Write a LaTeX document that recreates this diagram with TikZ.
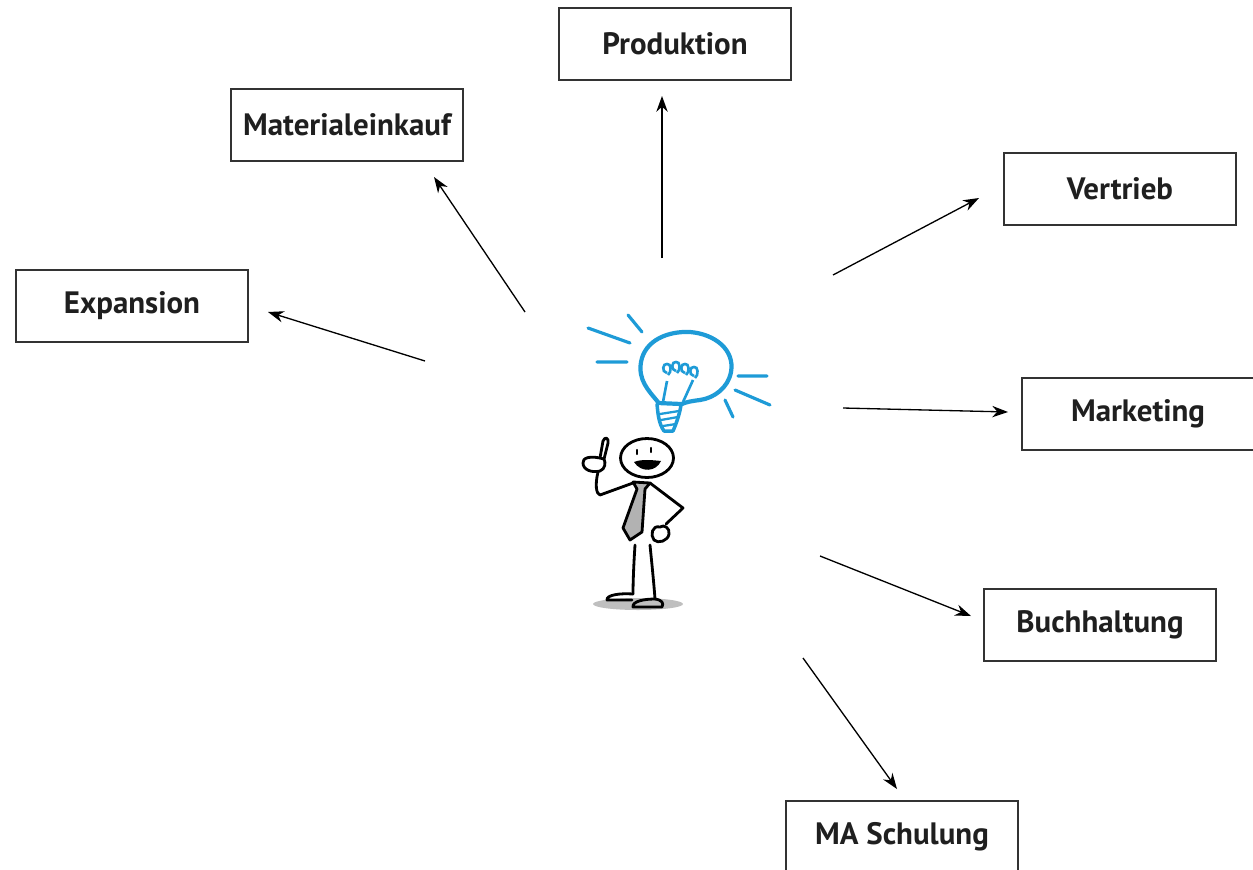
\documentclass[tikz,border=0pt]{standalone}
\usepackage{fontspec}
\setmainfont{PT Sans}
\usetikzlibrary{arrows.meta}
\definecolor{bulbblue}{RGB}{30,155,215}

\begin{document}
\begin{tikzpicture}[x=0.02cm, y=-0.02cm,
    bereich/.style ={rectangle, draw=black!80, line width=0.8pt, minimum width=4.64cm, minimum height=1.44cm, font=\fontsize{17.6}{20}\selectfont\bfseries, text=black!88},
    pfeil/.style ={-{Stealth[length=9pt,width=6.5pt]}, line width=0.75pt},
    figur/.style ={line width=1.6pt, line cap=round, line join=round},
    birne/.style ={draw=bulbblue, line width=2.4pt, line cap=round, line join=round}]
   \useasboundingbox (0,0) rectangle (1253,869);

   \node[bereich] (A) at (675,44)  {Produktion};
   \node[bereich] (B) at (347,125) {Materialeinkauf};
   \node[bereich] (C) at (1120,189) {Vertrieb};
   \node[bereich] (D) at (132,306) {Expansion};
   \node[bereich] (E) at (1138,414) {Marketing};
   \node[bereich] (F) at (1100,625) {Buchhaltung};
   \node[bereich] (G) at (902,837) {MA Schulung};

   \coordinate (sA) at (662,258);  \coordinate (eA) at (662,96);
   \coordinate (sB) at (525,312);  \coordinate (eB) at (434,177);
   \coordinate (sC) at (833,275);  \coordinate (eC) at (979,198);
   \coordinate (sD) at (425,361);  \coordinate (eD) at (268,312);
   \coordinate (sE) at (843,408);  \coordinate (eE) at (1008,412);
   \coordinate (sF) at (820,556);  \coordinate (eF) at (971,616);
   \coordinate (sG) at (803,658);  \coordinate (eG) at (897,789);

   \draw[pfeil] (sA) to (eA);
   \draw[pfeil] (sB) to (eB);
   \draw[pfeil] (sC) to (eC);
   \draw[pfeil] (sD) to (eD);
   \draw[pfeil] (sE) to (eE);
   \draw[pfeil] (sF) to (eF);
   \draw[pfeil] (sG) to (eG);

   % Gluehbirne
   \draw[birne] (658,402) .. controls (648,390) and (638,380) .. (641,362)
      .. controls (645,340) and (668,331) .. (690,332)
      .. controls (715,334) and (735,350) .. (731,372)
      .. controls (728,388) and (714,398) .. (700,400)
      .. controls (692,401) and (686,402) .. (682,404);
   \draw[birne] (658,403) -- (681,404);
   \draw[birne, line width=2pt] (657,404) .. controls (658,415) and (659,424) .. (664,431)
      -- (673,431) .. controls (677,422) and (680,412) .. (681,405);
   \draw[bulbblue, line width=1.3pt] (660,414) -- (679,411) (661,420) -- (678,417) (663,426) -- (676,424);
   \draw[bulbblue, line width=1.5pt] (667,381) -- (663,402) (693,380) -- (683,402);
   \foreach \x/\y in {667/371, 676/369, 685/371, 694/374}
      \draw[bulbblue, line width=1.5pt] (\x,\y+2) .. controls (\x-6,\y+1) and (\x-4,\y-8) .. (\x,\y-7)
         .. controls (\x+4,\y-8) and (\x+5,\y+1) .. (\x+1,\y+4);
   \draw[bulbblue, line width=1.8pt, line cap=round] (628,315) -- (642,332) (588,328) -- (630,343)
      (597,362) -- (627,362) (738,376) -- (767,376) (735,390) -- (770,405) (725,400) -- (733,417);

   % Figur
   \fill[black!25] (638,604) ellipse [x radius=0.9cm, y radius=0.12cm];
   \draw[figur] (647,458) ellipse [x radius=0.53cm, y radius=0.39cm];
   \draw[line width=1.4pt, line cap=round] (637,450) -- (637,454) (651,448) -- (651,452);
   \fill (634,462) .. controls (641,459) and (652,460) .. (661,461)
      .. controls (656,472) and (641,473) .. cycle;
   \draw[figur] (600,458) -- (603,441) .. controls (605,436) and (609,438) .. (608,443) -- (604,459);
   \draw[figur] (604,459) .. controls (590,455) and (582,458) .. (583,463)
      .. controls (583,470) and (592,473) .. (600,471) .. controls (605,469) and (606,463) .. (604,459);
   \draw[figur] (598,472) .. controls (595,484) and (596,494) .. (600,495) -- (633,483);
   \draw[figur, fill=black!30] (633,482) -- (650,483) -- (645,489) -- (642,532) -- (630,540) -- (623,528) -- (637,489) -- cycle;
   \draw[figur] (650,483) -- (683,508) -- (666,524);
   \draw[figur] (660,527) .. controls (652,525) and (650,535) .. (654,540)
      .. controls (658,544) and (668,541) .. (669,534) .. controls (670,528) and (664,524) .. (660,527);
   \draw[figur] (635,545) .. controls (634,560) and (633,580) .. (633,594);
   \draw[figur] (650,545) .. controls (652,565) and (654,585) .. (655,599);
   \draw[figur] (633,594) .. controls (620,593) and (606,595) .. (607,600) -- (632,600);
   \draw[figur] (655,599) .. controls (645,599) and (632,601) .. (633,607) -- (662,607) .. controls (664,603) and (662,600) .. (655,599);
 \end{tikzpicture}
\end{document}
